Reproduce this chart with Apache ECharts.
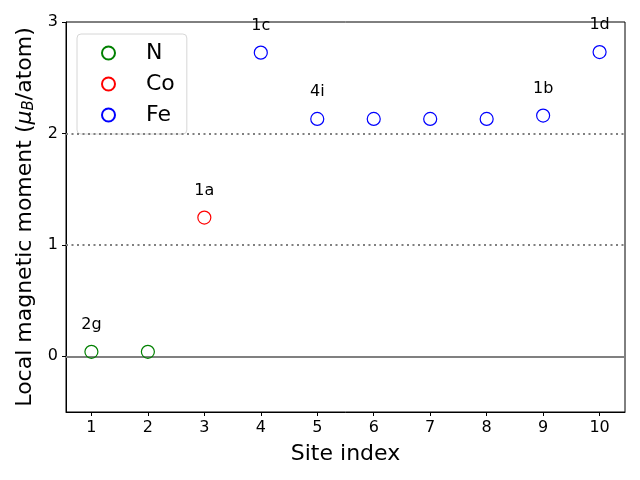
<!DOCTYPE html>
<html><head><meta charset="utf-8">
<script src="https://cdn.jsdelivr.net/npm/echarts@6/dist/echarts.min.js"></script>
<style>html,body{margin:0;padding:0;background:#fff}#c{width:640px;height:480px}</style>
</head><body><div id="c"></div>
<script>
const nSites = [1, 2];
const nValues = [0.04, 0.04];
const coSites = [3];
const coValues = [1.245];
const feSites = [4, 5, 6, 7, 8, 9, 10];
const feValues = [2.725, 2.13, 2.13, 2.13, 2.13, 2.16, 2.73];
const siteLabels = {1: '2g', 3: '1a', 4: '1c', 5: '4i', 9: '1b', 10: '1d'};
const xTicks = [1, 2, 3, 4, 5, 6, 7, 8, 9, 10];
const yTicks = [0, 1, 2, 3];
const refLines = [0, 1, 2];

const font = 'DejaVu Sans';
function mk(sites, vals) {
  return sites.map((s, i) => {
    const d = {value: [s, vals[i]]};
    if (siteLabels[s]) {
      d.label = {show: true, formatter: siteLabels[s], position: 'top', distance: 12,
        color: '#000', fontSize: 16, fontFamily: font};
    }
    return d;
  });
}
function series(name, color, sites, vals, extra) {
  return Object.assign({
    name: name, type: 'scatter', symbol: 'circle', symbolSize: 13,
    itemStyle: {color: 'rgba(255,255,255,0)', borderColor: color, borderWidth: 1.2, opacity: 1},
    emphasis: {disabled: true},
    data: mk(sites, vals), z: 5
  }, extra || {});
}
const chart = echarts.init(document.getElementById('c'), null, {renderer: 'canvas'});
chart.setOption({
  animation: false,
  grid: {left: 66, right: 15, top: 22, bottom: 68, show: true, borderColor: '#000', borderWidth: 1, backgroundColor: 'transparent'},
  legend: {
    orient: 'vertical', left: 77, top: 34, itemWidth: 13, itemHeight: 13, itemGap: 9,
    padding: [8, 12, 8, 24],
    borderColor: '#d6d6d6', borderWidth: 1, borderRadius: 4, backgroundColor: 'rgba(255,255,255,0.8)',
    textStyle: {fontSize: 22, fontFamily: font, color: '#000', padding: [0, 0, 0, 26]},
    data: ['N', 'Co', 'Fe']
  },
  xAxis: {
    type: 'value', min: 0.55, max: 10.45,
    name: 'Site index', nameLocation: 'middle', nameGap: 31,
    nameTextStyle: {fontSize: 22, fontFamily: font, color: '#000'},
    axisLine: {show: true, onZero: false, lineStyle: {color: '#000'}},
    axisTick: {show: true, inside: false, length: 4, lineStyle: {color: '#000'}, customValues: xTicks},
    axisLabel: {fontSize: 16, fontFamily: font, color: '#000', margin: 8, customValues: xTicks},
    splitLine: {show: false}
  },
  yAxis: {
    type: 'value', min: -0.5, max: 3,
    name: 'Local magnetic moment ({i|μ}{s|B}/atom)', nameLocation: 'middle', nameGap: 29, nameRotate: 90,
    nameTextStyle: {fontSize: 22, fontFamily: font, color: '#000',
      rich: {i: {fontSize: 22, fontStyle: 'italic', fontFamily: font, color: '#000'},
             s: {fontSize: 15, fontStyle: 'italic', fontFamily: font, color: '#000', verticalAlign: 'bottom', padding: [8, 0, 0, 0]}}},
    axisLine: {show: true, onZero: false, lineStyle: {color: '#000'}},
    axisTick: {show: true, inside: false, length: 4, lineStyle: {color: '#000'}, customValues: yTicks},
    axisLabel: {fontSize: 16, fontFamily: font, color: '#000', margin: 8, customValues: yTicks},
    splitLine: {show: false}
  },
  series: [
    series('N', 'green', nSites, nValues, {
      markLine: {
        silent: true, symbol: 'none', label: {show: false}, animation: false,
        emphasis: {disabled: true},
        data: refLines.map(v => ({yAxis: v, lineStyle: {color: '#808080', width: 2, opacity: 1, type: v === 0 ? 'solid' : [2, 3.5]}}))
      }
    }),
    series('Co', 'red', coSites, coValues),
    series('Fe', 'blue', feSites, feValues)
  ]
});
</script></body></html>
